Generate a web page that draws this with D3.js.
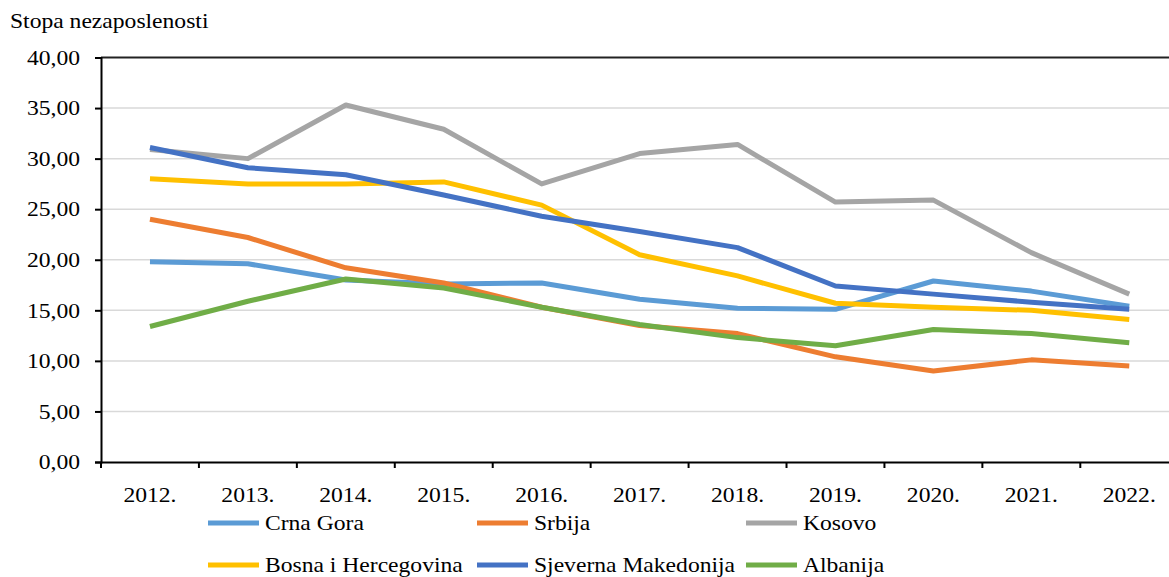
<!DOCTYPE html>
<html>
<head>
<meta charset="utf-8">
<script src="https://cdn.jsdelivr.net/npm/d3@7"></script>
<style>
  body { margin: 0; background: #fff; }
  text { font-family: "Liberation Serif", "Times New Roman", serif; fill: #000; }
</style>
</head>
<body>
<div id="chart"></div>
<script>
const years = ["2012.", "2013.", "2014.", "2015.", "2016.", "2017.", "2018.", "2019.", "2020.", "2021.", "2022."];
const yTicks = [0, 5, 10, 15, 20, 25, 30, 35, 40];

const crnaGora = [19.8, 19.6, 18.0, 17.6, 17.7, 16.1, 15.2, 15.1, 17.9, 16.9, 15.4];
const srbija = [24.0, 22.2, 19.2, 17.7, 15.3, 13.5, 12.7, 10.4, 9.0, 10.1, 9.5];
const kosovo = [30.9, 30.0, 35.3, 32.9, 27.5, 30.5, 31.4, 25.7, 25.9, 20.7, 16.6];
const bih = [28.0, 27.5, 27.5, 27.7, 25.4, 20.5, 18.4, 15.7, 15.3, 15.0, 14.1];
const sjMakedonija = [31.1, 29.1, 28.4, 26.4, 24.3, 22.8, 21.2, 17.4, 16.6, 15.8, 15.1];
const albanija = [13.4, 15.9, 18.1, 17.2, 15.3, 13.6, 12.3, 11.5, 13.1, 12.7, 11.8];

const seriesNames = ["Crna Gora", "Srbija", "Kosovo", "Bosna i Hercegovina", "Sjeverna Makedonija", "Albanija"];
const seriesValues = [crnaGora, srbija, kosovo, bih, sjMakedonija, albanija];
const seriesColors = ["#5B9BD5", "#ED7D31", "#A5A5A5", "#FFC000", "#4472C4", "#70AD47"];

const width = 1169, height = 577;
const fontSize = 20;
const stretch = 1.18; // source text is wider than the installed serif

const svg = d3.select("#chart").append("svg")
    .attr("width", width)
    .attr("height", height);

const x = d3.scaleBand().domain(years).range([101, 101 + 11 * 97.93]);
const y = d3.scaleLinear().domain([0, 40]).range([462, 57.5]);

// gridlines (top one is drawn dark, like a frame line)
svg.append("g")
    .selectAll("line")
    .data(yTicks.filter(d => d > 0))
    .enter().append("line")
    .attr("x1", 101).attr("x2", width)
    .attr("y1", d => y(d)).attr("y2", d => y(d))
    .attr("stroke", d => d === 40 ? "#222" : "#d9d9d9")
    .attr("stroke-width", d => d === 40 ? 2 : 1.5);

// y axis
const yAxis = svg.append("g")
    .attr("transform", "translate(101,0)")
    .call(d3.axisLeft(y).tickValues(yTicks).tickSize(6).tickPadding(15)
        .tickFormat(d => d3.format(".2f")(d).replace(".", ",")));
yAxis.select(".domain").attr("stroke", "#000").attr("stroke-width", 2);
yAxis.selectAll(".tick line").attr("stroke", "#000").attr("stroke-width", 2);
yAxis.selectAll(".tick text").style("font-size", fontSize + "px").attr("dy", "0.34em");

// x axis
const xAxis = svg.append("g")
    .attr("transform", "translate(0," + y(0) + ")")
    .call(d3.axisBottom(x).tickSize(0).tickPadding(26));
xAxis.select(".domain").attr("stroke", "#000").attr("stroke-width", 2);
xAxis.selectAll(".tick text").style("font-size", fontSize + "px");
// tick marks on category boundaries
xAxis.append("g")
    .selectAll("line")
    .data(years)
    .enter().append("line")
    .attr("x1", d => x(d)).attr("x2", d => x(d))
    .attr("y1", 0).attr("y2", 6)
    .attr("stroke", "#000")
    .attr("stroke-width", 2);

// lines
const line = d3.line()
    .x((d, i) => x(years[i]) + x.bandwidth() / 2)
    .y(d => y(d));

svg.append("g")
    .selectAll("path")
    .data(seriesValues)
    .enter().append("path")
    .attr("fill", "none")
    .attr("stroke", (d, i) => seriesColors[i])
    .attr("stroke-width", 5)
    .attr("stroke-linejoin", "round")
    .attr("d", d => line(d));

// title
svg.append("text")
    .attr("x", 10)
    .attr("y", 28)
    .style("font-size", fontSize + "px")
    .text("Stopa nezaposlenosti");

// legend
const legendX = [208, 477, 746];
const legendY = [523, 565];
const legend = svg.append("g")
    .selectAll("g")
    .data(seriesNames)
    .enter().append("g")
    .attr("transform", (d, i) => `translate(${legendX[i % 3]},${legendY[Math.floor(i / 3)]})`);

legend.append("line")
    .attr("x1", 0).attr("x2", 51)
    .attr("stroke", (d, i) => seriesColors[i])
    .attr("stroke-width", 5);

legend.append("text")
    .attr("x", 57)
    .attr("dy", "0.34em")
    .style("font-size", fontSize + "px")
    .text(d => d);

// widen every text horizontally around its anchor x
svg.selectAll("text").each(function() {
    const x0 = +(this.getAttribute("x") || 0);
    d3.select(this).attr("transform", `translate(${x0},0) scale(${stretch},1) translate(${-x0},0)`);
});
</script>
</body>
</html>
